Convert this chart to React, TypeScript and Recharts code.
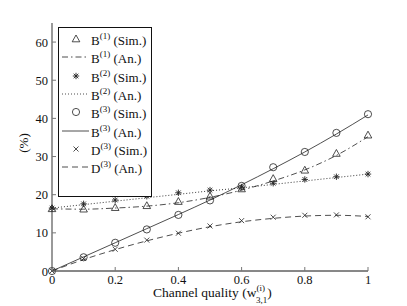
import { LineChart, Line, XAxis, YAxis } from 'recharts';

const quality = [0, 0.1, 0.2, 0.3, 0.4, 0.5, 0.6, 0.7, 0.8, 0.9, 1];

const b1Sim = [16.3, 16.2, 16.6, 17.1, 18.2, 19.6, 21.5, 24.2, 26.4, 30.8, 35.6];
const b1An = [16.3, 16.2, 16.5, 17.0, 17.9, 19.3, 21.2, 23.6, 26.5, 30.3, 35.2];
const b2Sim = [16.5, 17.6, 18.6, 19.6, 20.5, 21.2, 22.0, 23.0, 24.0, 24.7, 25.4];
const b2An = [16.5, 17.4, 18.3, 19.2, 20.1, 21.0, 21.8, 22.7, 23.6, 24.5, 25.4];
const b3Sim = [0, 3.6, 7.4, 10.9, 14.7, 18.5, 22.3, 27.2, 31.2, 36.2, 41.1];
const b3An = [0, 3.7, 7.4, 11.1, 14.8, 18.6, 22.6, 26.8, 31.2, 35.9, 40.9];
const d3Sim = [0, 3.3, 5.7, 8.1, 9.9, 11.8, 13.2, 14.1, 14.6, 14.7, 14.2];
const d3An = [0, 3.0, 5.6, 7.9, 9.9, 11.6, 12.9, 13.8, 14.4, 14.6, 14.3];

const xTicks = [0, 0.2, 0.4, 0.6, 0.8, 1];
const yTicks = [0, 10, 20, 30, 40, 50, 60];

const data = quality.map((q, i) => ({
  q,
  b1Sim: b1Sim[i],
  b1An: b1An[i],
  b2Sim: b2Sim[i],
  b2An: b2An[i],
  b3Sim: b3Sim[i],
  b3An: b3An[i],
  d3Sim: d3Sim[i],
  d3An: d3An[i],
}));

const INK = '#222';
const FRAME = '#777';
const FONT = 'Liberation Serif, Times New Roman, serif';

const Triangle = ({ cx, cy }: any) => (
  <path d={`M${cx},${cy - 4} L${cx + 3.8},${cy + 2.8} L${cx - 3.8},${cy + 2.8} Z`} fill="none" stroke={INK} strokeWidth={0.8} />
);
const Star = ({ cx, cy }: any) => (
  <g stroke={INK} strokeWidth={0.9}>
    <line x1={cx - 3.2} y1={cy} x2={cx + 3.2} y2={cy} />
    <line x1={cx} y1={cy - 3.2} x2={cx} y2={cy + 3.2} />
    <line x1={cx - 2.3} y1={cy - 2.3} x2={cx + 2.3} y2={cy + 2.3} />
    <line x1={cx - 2.3} y1={cy + 2.3} x2={cx + 2.3} y2={cy - 2.3} />
  </g>
);
const Circle = ({ cx, cy }: any) => (
  <circle cx={cx} cy={cy} r={3.6} fill="none" stroke={INK} strokeWidth={0.8} />
);
const Cross = ({ cx, cy }: any) => (
  <g stroke={INK} strokeWidth={0.8}>
    <line x1={cx - 2.5} y1={cy - 2.5} x2={cx + 2.5} y2={cy + 2.5} />
    <line x1={cx - 2.5} y1={cy + 2.5} x2={cx + 2.5} y2={cy - 2.5} />
  </g>
);

const dotOf = (Shape: any) => (props: any) =>
  props.cx == null ? <g key={props.index} /> : <Shape key={props.index} cx={props.cx} cy={props.cy} />;

const BottomTick = ({ x, y, payload }: any) => (
  <g>
    <line x1={x} y1={y} x2={x} y2={y - 4} stroke={FRAME} />
    <text x={x} y={y + 13} textAnchor="middle" fontSize={12.5} style={{ fontFamily: FONT }} fill="#111">
      {payload.value}
    </text>
  </g>
);
const TopTick = ({ x, y }: any) => <line x1={x} y1={y} x2={x} y2={y + 4} stroke={FRAME} />;
const LeftTick = ({ x, y, payload }: any) => (
  <g>
    <line x1={x} y1={y} x2={x + 4} y2={y} stroke={FRAME} />
    <text x={x - 4} y={y + 4.5} textAnchor="end" fontSize={12.5} style={{ fontFamily: FONT }} fill="#111">
      {payload.value}
    </text>
  </g>
);
const RightTick = ({ x, y }: any) => <line x1={x} y1={y} x2={x - 4} y2={y} stroke={FRAME} />;

const XLabel = ({ viewBox }: any) => {
  const cx = viewBox.x + viewBox.width / 2;
  const y = viewBox.y + 26;
  return (
    <text x={cx - 57} y={y} fontSize={13.5} style={{ fontFamily: FONT }} fill="#111">
      Channel quality (w
      <tspan dy={-6} fontSize={9}>(i)</tspan>
      <tspan dx={-9} dy={11.5} fontSize={9}>3,1</tspan>
      <tspan dy={-5.5}>)</tspan>
    </text>
  );
};

const YLabel = ({ viewBox }: any) => {
  const x = 28;
  const y = viewBox.y + viewBox.height / 2 - 4;
  return (
    <text x={x} y={y} transform={`rotate(-90 ${x} ${y})`} textAnchor="middle" fontSize={13} style={{ fontFamily: FONT }} fill="#111">
      (%)
    </text>
  );
};

const legendItems = [
  { letter: 'B', sup: '(1)', kind: 'Sim.', marker: Triangle, dash: null },
  { letter: 'B', sup: '(1)', kind: 'An.', marker: null, dash: '6 3 1.5 3' },
  { letter: 'B', sup: '(2)', kind: 'Sim.', marker: Star, dash: null },
  { letter: 'B', sup: '(2)', kind: 'An.', marker: null, dash: '1 2' },
  { letter: 'B', sup: '(3)', kind: 'Sim.', marker: Circle, dash: null },
  { letter: 'B', sup: '(3)', kind: 'An.', marker: null, dash: '' },
  { letter: 'D', sup: '(3)', kind: 'Sim.', marker: Cross, dash: null },
  { letter: 'D', sup: '(3)', kind: 'An.', marker: null, dash: '6 4' },
];

const LegendBox = () => (
  <div
    style={{
      position: 'absolute',
      left: 58,
      top: 27,
      width: 94,
      height: 170,
      border: '1px solid #111',
      background: '#fff',
      fontFamily: FONT,
      fontSize: 13,
      color: '#111',
      boxSizing: 'border-box',
      paddingTop: 2,
    }}
  >
    {legendItems.map((it, i) => (
      <div key={i} style={{ height: 18.3, display: 'flex', alignItems: 'center' }}>
        <svg width={32} height={18} style={{ flex: 'none' }}>
          {it.marker ? (
            <it.marker cx={17} cy={9} />
          ) : (
            <line x1={3} y1={9} x2={30} y2={9} stroke={INK} strokeWidth={0.8} strokeDasharray={it.dash || undefined} />
          )}
        </svg>
        <span style={{ whiteSpace: 'nowrap', marginTop: 2 }}>
          {it.letter}
          <sup style={{ fontSize: 9, verticalAlign: 6 }}>{it.sup}</sup> ({it.kind})
        </span>
      </div>
    ))}
  </div>
);

const App = () => (
  <div style={{ position: 'absolute', left: 0, top: 0, width: 407, height: 306, background: '#fff' }}>
    <LineChart width={407} height={306} data={data} margin={{ top: 23, right: 39, left: 22, bottom: 15 }}>
      <XAxis
        dataKey="q"
        type="number"
        domain={[0, 1]}
        ticks={xTicks}
        xAxisId="bottom"
        height={20}
        tickSize={0}
        tickMargin={0}
        tick={<BottomTick />}
        axisLine={{ stroke: '#111' }}
        label={<XLabel />}
      />
      <XAxis
        dataKey="q"
        type="number"
        domain={[0, 1]}
        ticks={xTicks}
        xAxisId="top"
        orientation="top"
        height={0}
        tickSize={0}
        tickMargin={0}
        tick={<TopTick />}
        axisLine={{ stroke: FRAME }}
      />
      <YAxis
        yAxisId="left"
        type="number"
        domain={[0, 65]}
        ticks={yTicks}
        width={30}
        tickSize={0}
        tickMargin={0}
        tick={<LeftTick />}
        axisLine={{ stroke: FRAME, strokeWidth: 1.5 }}
        label={<YLabel />}
      />
      <YAxis
        yAxisId="right"
        orientation="right"
        type="number"
        domain={[0, 65]}
        ticks={yTicks}
        width={0}
        tickSize={0}
        tickMargin={0}
        tick={<RightTick />}
        axisLine={{ stroke: FRAME }}
      />
      <Line xAxisId="bottom" yAxisId="left" dataKey="b1An" type="monotone" stroke={INK} strokeWidth={0.8} strokeDasharray="6 3 1.5 3" dot={false} isAnimationActive={false} />
      <Line xAxisId="bottom" yAxisId="left" dataKey="b2An" type="monotone" stroke={INK} strokeWidth={0.9} strokeDasharray="1 2" dot={false} isAnimationActive={false} />
      <Line xAxisId="bottom" yAxisId="left" dataKey="b3An" type="monotone" stroke={INK} strokeWidth={0.8} dot={false} isAnimationActive={false} />
      <Line xAxisId="bottom" yAxisId="left" dataKey="d3An" type="monotone" stroke={INK} strokeWidth={0.8} strokeDasharray="6 4" dot={false} isAnimationActive={false} />
      <Line xAxisId="bottom" yAxisId="left" dataKey="b1Sim" stroke="none" dot={dotOf(Triangle)} activeDot={false} isAnimationActive={false} />
      <Line xAxisId="bottom" yAxisId="left" dataKey="b2Sim" stroke="none" dot={dotOf(Star)} activeDot={false} isAnimationActive={false} />
      <Line xAxisId="bottom" yAxisId="left" dataKey="b3Sim" stroke="none" dot={dotOf(Circle)} activeDot={false} isAnimationActive={false} />
      <Line xAxisId="bottom" yAxisId="left" dataKey="d3Sim" stroke="none" dot={dotOf(Cross)} activeDot={false} isAnimationActive={false} />
    </LineChart>
    <LegendBox />
  </div>
);

export default App;
